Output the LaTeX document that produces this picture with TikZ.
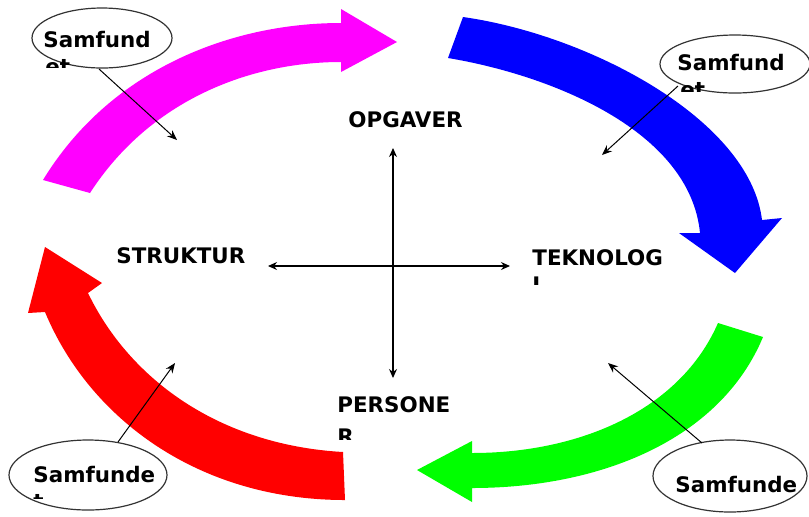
\documentclass[tikz,border=0pt]{standalone}
\usepackage{fontspec}
\setmainfont{DejaVu Sans}
\usetikzlibrary{shapes.geometric,arrows.meta}
\definecolor{pmag}{RGB}{255,0,255}
\definecolor{pblue}{RGB}{0,0,255}
\definecolor{pgreen}{RGB}{0,255,0}
\definecolor{pred}{RGB}{255,0,0}
\begin{document}
\begin{tikzpicture}[x=0.5pt,y=-0.5pt,
 lbl/.style={anchor=base west,inner sep=0pt,font=\fontsize{10.7}{12}\selectfont\bfseries},
 oval/.style={draw=black!80,line width=0.6pt,fill=white,ellipse,inner sep=0pt},
 thinarrow/.style={line width=0.5pt,-{Stealth[length=5pt,width=4pt]}},
 crossarrow/.style={line width=0.6pt,{Stealth[length=4.5pt,width=4pt]}-{Stealth[length=4.5pt,width=4pt]}}]
\useasboundingbox (0,0) rectangle (809,516);
% fat arrows
\fill[pmag] (43,180) .. controls (110,70) and (230,23) .. (341,23) -- (341,9) -- (397,42) -- (341,72) -- (341,62) .. controls (250,62) and (150,100) .. (90,193) -- cycle;
\fill[pblue] (463,17) .. controls (590,35) and (750,120) .. (762,220) -- (782,218) -- (735,273) -- (679,233) -- (700,233) .. controls (690,130) and (550,75) .. (448,58) -- cycle;
\fill[pgreen] (763,337) .. controls (720,440) and (600,488) .. (472,488) -- (472,502) -- (417,470) -- (472,441) -- (472,453) .. controls (580,453) and (680,410) .. (718,323) -- cycle;
\fill[pred] (345,500) .. controls (200,500) and (90,420) .. (45,312) -- (28,313) -- (45,247) -- (102,283) -- (88,293) .. controls (130,380) and (220,445) .. (343,452) -- cycle;
% ellipses
\node[oval,minimum width=70pt,minimum height=30pt] (etl) at (102,38) {};
\node[oval,minimum width=75pt,minimum height=29pt] (etr) at (735,64) {};
\node[oval,minimum width=79pt,minimum height=35pt] (ebl) at (88,475) {};
\node[oval,minimum width=77pt,minimum height=36pt] (ebr) at (730,476) {};
% ellipse texts
\node[lbl] (ttl) at (43,47) {Samfund};
\node[lbl] (ttr) at (677,70) {Samfund};
\node[lbl] (tbl) at (33,482) {Samfunde};
\node[lbl] (tbr) at (675,492) {Samfunde};
\begin{scope}
\clip (30,0) rectangle (120,67);
\node[lbl] (ttl2) at (45,74) {et};
\end{scope}
\begin{scope}
\clip (660,0) rectangle (760,91);
\node[lbl] (ttr2) at (680,97) {et};
\end{scope}
\begin{scope}
\clip (20,440) rectangle (120,498);
\node[lbl] (tbl2) at (33,509) {t};
\end{scope}
% centre labels
\node[lbl] (opg) at (348,127) {OPGAVER};
\node[lbl] (str) at (116,263) {STRUKTUR};
\node[lbl] (tek) at (532,265) {TEKNOLOG};
\node[lbl] (per) at (337,412) {PERSONE};
\begin{scope}
\clip (520,270) rectangle (600,284);
\node[lbl] (tek2) at (532,292) {I};
\end{scope}
\begin{scope}
\clip (320,420) rectangle (400,439);
\node[lbl] (per2) at (337,444) {R};
\end{scope}
% cross
\coordinate (ct) at (393,148);
\coordinate (cb) at (393,378);
\coordinate (cl) at (268,266);
\coordinate (cr) at (510,266);
\draw[crossarrow] (ct) -- (cb);
\draw[crossarrow] (cl) -- (cr);
% thin arrows
\coordinate (atl) at (99,69);
\coordinate (ptl) at (177,140);
\coordinate (atr) at (678,86);
\coordinate (ptr) at (602,155);
\coordinate (abl) at (118,442);
\coordinate (pbl) at (175,363);
\coordinate (abr) at (702,443);
\coordinate (pbr) at (608,363);
\draw[thinarrow] (atl) -- (ptl);
\draw[thinarrow] (atr) -- (ptr);
\draw[thinarrow] (abl) -- (pbl);
\draw[thinarrow] (abr) -- (pbr);
\end{tikzpicture}
\end{document}
